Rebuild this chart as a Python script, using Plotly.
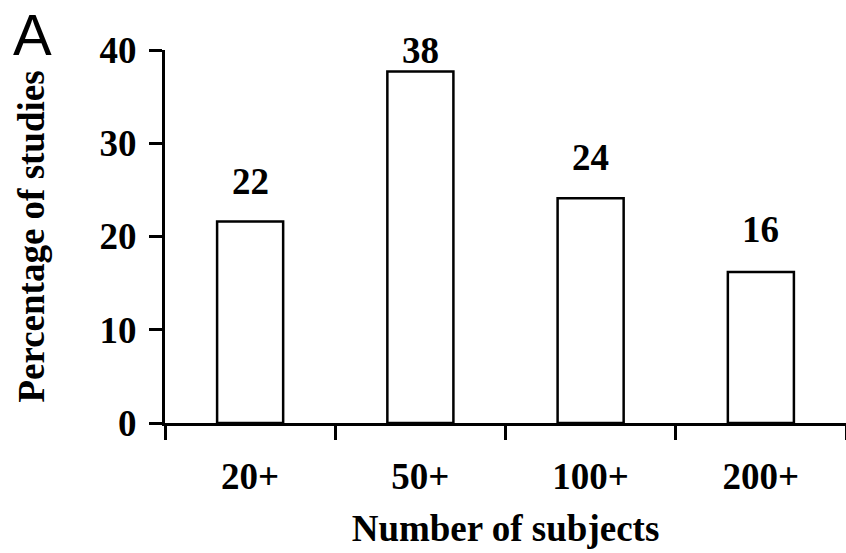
import plotly.graph_objects as go

categories = ["20+", "50+", "100+", "200+"]
bar_values = [21.6, 37.7, 24.1, 16.2]
label_texts = ["22", "38", "24", "16"]
label_y = [25.9, 40.0, 28.5, 20.7]
y_ticks = [0, 10, 20, 30, 40]

SERIF = "Liberation Serif, Times New Roman, serif"
FS = 37

fig = go.Figure()
fig.add_trace(go.Bar(
    x=categories, y=bar_values,
    marker=dict(color="white", line=dict(color="black", width=2.5)),
    width=0.388,
))

for c, t, yy in zip(categories, label_texts, label_y):
    fig.add_annotation(x=c, y=yy, text="<b>%s</b>" % t, showarrow=False,
                       xref="x", yref="y", yanchor="middle",
                       font=dict(family=SERIF, size=FS, color="black"))

fig.add_annotation(x=-0.195, y=1.132, xref="paper", yref="paper", text="A", showarrow=False,
                   xanchor="center", yanchor="top", borderpad=0,
                   font=dict(family="Liberation Sans, Arial, sans-serif", size=58, color="black"))

fig.update_layout(
    width=846, height=553,
    margin=dict(l=165, r=0, t=50, b=130),
    paper_bgcolor="white", plot_bgcolor="white",
    showlegend=False,
    font=dict(family=SERIF, color="black"),
    xaxis=dict(
        type="category", categoryorder="array", categoryarray=categories,
        range=[-0.5, 3.5],
        showline=True, linecolor="black", linewidth=3,
        ticks="outside", tickson="boundaries", ticklen=14, tickwidth=3, tickcolor="black",
        tickvals=categories, ticktext=["<b>%s</b>" % c for c in categories],
        tickfont=dict(family=SERIF, size=FS, color="black"),
        ticklabelstandoff=19,
        showgrid=False, zeroline=False,
        title=dict(text="<b>Number of subjects</b>", font=dict(family=SERIF, size=FS, color="black"), standoff=19),
    ),
    yaxis=dict(
        range=[0, 40], tickvals=y_ticks, ticktext=["<b>%d</b>" % v for v in y_ticks],
        showline=True, linecolor="black", linewidth=3,
        ticks="outside", ticklen=13, tickwidth=3, tickcolor="black",
        tickfont=dict(family=SERIF, size=FS, color="black"),
        ticklabelstandoff=5,
        showgrid=False, zeroline=False,
        title=dict(text="<b>Percentage of studies</b>", font=dict(family=SERIF, size=FS, color="black"), standoff=44),
    ),
)

fig.write_html("out.html", config={"displayModeBar": False},
               post_script="document.body.style.margin='0';document.body.style.overflow='hidden';")
